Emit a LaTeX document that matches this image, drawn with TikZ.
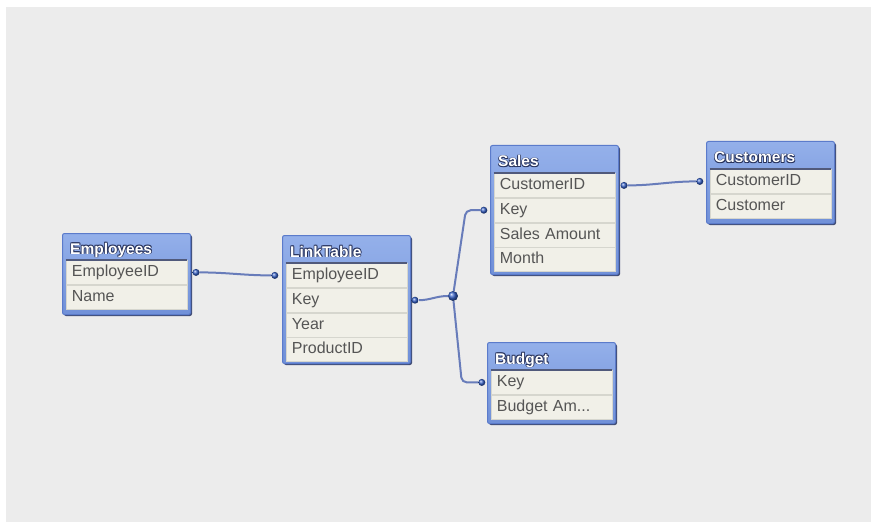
\documentclass[tikz,border=0pt]{standalone}
\usepackage{fontspec}
\setmainfont{Liberation Sans}
\usetikzlibrary{positioning, shadows}

\definecolor{bggray}{HTML}{ECECEC}
\definecolor{headtop}{HTML}{94B0EA}
\definecolor{headbot}{HTML}{7090D8}
\definecolor{frameblue}{HTML}{5B7BCB}
\definecolor{shadowblue}{HTML}{2E3C6A}
\definecolor{rowfill}{HTML}{F1F0E8}
\definecolor{rowline}{HTML}{D6D6CE}
\definecolor{rowtext}{HTML}{555555}
\definecolor{titleedge}{HTML}{25305A}
\definecolor{linkblue}{HTML}{687CBA}
\definecolor{dotblue}{HTML}{3560C8}

\pgfdeclarelayer{bg}
\pgfdeclarelayer{links}
\pgfsetlayers{bg,links,main}

\newcommand\tabletitle[1]{%
  \makebox[0pt][l]{\textcolor{titleedge}{\kern-.7pt\raisebox{.7pt}{#1}}}%
  \makebox[0pt][l]{\textcolor{titleedge}{\kern.8pt\raisebox{-.8pt}{#1}}}%
  \makebox[0pt][l]{\textcolor{titleedge}{\kern.7pt\raisebox{.7pt}{#1}}}%
  \makebox[0pt][l]{\textcolor{titleedge}{\kern-.7pt\raisebox{-.7pt}{#1}}}%
  #1}

\begin{document}
\begin{tikzpicture}[x=1pt,y=-1pt,
    tbl/.style={anchor=north west, minimum width=128pt, inner sep=0pt,
      top color=headtop, bottom color=headbot, draw=frameblue, line width=1pt,
      rounded corners=2pt,
      drop shadow={shadow xshift=1.5pt, shadow yshift=-1.5pt, fill=shadowblue, opacity=.9}},
    title/.style={anchor=base west, inner sep=0pt, text=white,
      font=\fontsize{15.5}{18}\bfseries},
    row/.style={anchor=north west, fill=rowfill, draw=rowline, line width=.8pt,
      text width=109pt, align=left, inner xsep=6pt, inner ysep=0pt,
      minimum height=24pt, text height=11.5pt, text depth=3.5pt,
      text=rowtext, font=\fontsize{16}{18}\selectfont},
    dot/.style={circle, inner sep=0pt, minimum size=7pt, shading=ball, ball color=dotblue},
    hub/.style={dot, minimum size=10pt},
    link/.style={draw=linkblue, line width=2pt}]

  \useasboundingbox (0,0) rectangle (873,524);
  \begin{pgfonlayer}{bg}
    \fill[white] (0,0) rectangle (873,524);
    \fill[bggray] (6,7) rectangle (871,522);
  \end{pgfonlayer}

  % tables
  \node[tbl, minimum height=81pt] (emp) at (62,233) {};
  \node[title] (empT) at ([shift={(8,21)}]emp.north west) {\tabletitle{Employees}};
  \node[row] (emp1) at ([shift={(3.5,27)}]emp.north west) {EmployeeID};
  \node[row, below=0pt of emp1] (emp2) {Name};

  \node[tbl, minimum height=128pt] (lnk) at (282,235) {};
  \node[title] (lnkT) at ([shift={(8,22)}]lnk.north west) {\tabletitle{LinkTable}};
  \node[row] (lnk1) at ([shift={(3.5,28)}]lnk.north west) {EmployeeID};
  \node[row, below=0pt of lnk1] (lnk2) {Key};
  \node[row, below=0pt of lnk2] (lnk3) {Year};
  \node[row, below=0pt of lnk3] (lnk4) {ProductID};

  \node[tbl, minimum height=129pt] (sal) at (490,145) {};
  \node[title] (salT) at ([shift={(8,22)}]sal.north west) {\tabletitle{Sales}};
  \node[row] (sal1) at ([shift={(3.5,28)}]sal.north west) {CustomerID};
  \node[row, below=0pt of sal1] (sal2) {Key};
  \node[row, below=0pt of sal2] (sal3) {Sales Amount};
  \node[row, below=0pt of sal3] (sal4) {Month};

  \node[tbl, minimum height=82pt] (cus) at (706,141) {};
  \node[title] (cusT) at ([shift={(8,22)}]cus.north west) {\tabletitle{Customers}};
  \node[row] (cus1) at ([shift={(3.5,28)}]cus.north west) {CustomerID};
  \node[row, below=0pt of cus1] (cus2) {Customer};

  \node[tbl, minimum height=81pt] (bud) at (487,342) {};
  \node[title] (budT) at ([shift={(8,22)}]bud.north west) {\tabletitle{Budget}};
  \node[row] (bud1) at ([shift={(3.5,28)}]bud.north west) {Key};
  \node[row, below=0pt of bud1] (bud2) {Budget Am...};

  % line under the headers
  \foreach \r in {emp1,lnk1,sal1,cus1,bud1}
    \draw[titleedge!80, line width=1.4pt] (\r.north west) -- (\r.north east);

  % key dots
  \node[dot, right=5pt of emp1] (empR) {};
  \node[dot, left=7pt of lnk1] (lnkL) {};
  \node[dot, right=4pt of lnk2] (lnkR) {};
  \node[dot, left=6pt of sal2] (salL) {};
  \node[dot, right=5pt of sal1] (salR) {};
  \node[dot, left=6pt of cus1] (cusL) {};
  \node[dot, left=5pt of bud1] (budL) {};
  \node[hub] (hub) at (453,296) {};

  % links
  \begin{pgfonlayer}{links}
    \draw[link] (empR) to[out=0,in=180] (lnkL);
    \draw[link] (lnkR) to[out=0,in=180] (hub);
    \draw[link, rounded corners=5pt] (hub) -- ([xshift=-18pt]salL.center) -- (salL);
    \draw[link, rounded corners=5pt] (hub) -- ([xshift=-20pt]budL.center) -- (budL);
    \draw[link] (salR) to[out=0,in=180] (cusL);
  \end{pgfonlayer}
\end{tikzpicture}
\end{document}
